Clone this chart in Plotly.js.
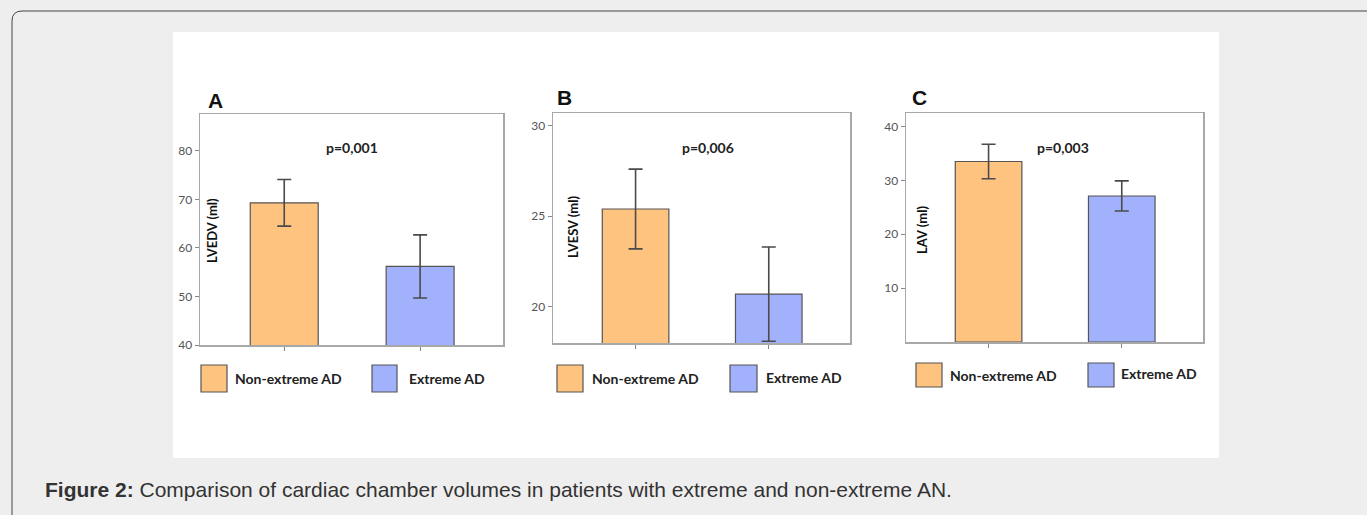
<!DOCTYPE html>
<html><head><meta charset="utf-8">
<script src="https://cdn.plot.ly/plotly-3.0.1.min.js"></script>
<style>html,body{margin:0;padding:0;background:#eeeeee;overflow:hidden}#chart{width:1367px;height:515px;}</style>
</head><body><div id="chart"></div>
<script>
// ---- data ----
const categories = ['Non-extreme AD', 'Extreme AD'];
const panelLetters = ['A', 'B', 'C'];
const yTitles = ['LVEDV (ml)', 'LVESV (ml)', 'LAV (ml)'];
const pValues = ['p=0,001', 'p=0,006', 'p=0,003'];
const lvedvMeans = [69.3, 56.2];
const lvedvErrors = [4.8, 6.5];
const lvesvMeans = [25.4, 20.7];
const lvesvErrors = [2.2, 2.6];
const lavMeans = [33.5, 27.1];
const lavErrors = [3.2, 2.8];
const yTickVals = [[40, 50, 60, 70, 80], [20, 25, 30], [10, 20, 30, 40]];
const yRanges = [[40, 87.6], [18, 30.7], [0, 42.5]];
const barColors = ['#ffc380', '#a1b1fb'];
const captionBold = 'Figure 2:';
const captionText = ' Comparison of cardiac chamber volumes in patients with extreme and non-extreme AN.';

// ---- layout helpers (pixel -> paper) ----
const W = 1367, H = 515;
const px = x => x / W;
const py = y => 1 - y / H;

const means = [lvedvMeans, lvesvMeans, lavMeans];
const errs = [lvedvErrors, lvesvErrors, lavErrors];
const boxes = [
  {l: 200, r: 503, t: 114, b: 345},
  {l: 553, r: 850, t: 113, b: 343},
  {l: 906, r: 1203, t: 113, b: 342}
];
const letterPos = [[206, 100], [555, 98], [910, 98]];
const pPos = [[352, 148], [708, 148], [1063, 148]];
const yTitlePos = [[212, 231], [573, 227], [922, 230]];
const legendSw = [
  [[201, 365, 227, 392], [372, 365, 397, 392]],
  [[557, 365, 583, 392], [730, 365, 757, 392]],
  [[916, 363, 942, 387], [1088, 363, 1114, 387]]
];
const legendTxt = [
  [[233, 378], [407, 378]],
  [[590, 378], [764, 377]],
  [[948, 375], [1119, 373]]
];

const FONT = 'Lato, "Open Sans", sans-serif';
const traces = [];
const layout = {
  width: W, height: H,
  margin: {l: 0, r: 0, t: 0, b: 0},
  paper_bgcolor: '#eeeeee',
  plot_bgcolor: '#ffffff',
  showlegend: false,
  bargap: 0,
  shapes: [],
  annotations: []
};

// card outline & white figure area
const cl = 12, ct = 11, rad = 10;
layout.shapes.push({
  type: 'path', xref: 'paper', yref: 'paper', layer: 'below',
  path: `M ${px(W)},${py(ct)} L ${px(cl + rad)},${py(ct)} Q ${px(cl)},${py(ct)} ${px(cl)},${py(ct + rad)} L ${px(cl)},${py(H)}`,
  line: {color: '#444444', width: 1}
});
layout.shapes.push({
  type: 'rect', xref: 'paper', yref: 'paper', layer: 'below',
  x0: px(173), x1: px(1219), y0: py(458), y1: py(32),
  fillcolor: '#ffffff', line: {width: 0}
});

for (let i = 0; i < 3; i++) {
  const n = i === 0 ? '' : String(i + 1);
  const bx = boxes[i];
  traces.push({
    type: 'bar',
    x: categories,
    y: means[i],
    xaxis: 'x' + n, yaxis: 'y' + n,
    width: 0.5,
    marker: {color: barColors, line: {color: '#555555', width: 1.2}},
    error_y: {type: 'data', array: errs[i], visible: true, color: '#4a4a4a', thickness: 1.6, width: 7},
    hoverinfo: 'x+y'
  });
  layout['xaxis' + n] = {
    domain: [px(bx.l), px(bx.r)],
    anchor: 'y' + n,
    type: 'category',
    range: [-0.62, 1.61],
    showticklabels: false,
    ticks: 'outside', ticklen: 4, tickcolor: '#888888', tickwidth: 1,
    showline: true, mirror: true, linecolor: '#a8a8a8', linewidth: 1.5,
    showgrid: false, zeroline: false, fixedrange: true
  };
  layout['yaxis' + n] = {
    domain: [py(bx.b), py(bx.t)],
    anchor: 'x' + n,
    range: yRanges[i],
    tickvals: yTickVals[i],
    ticks: 'outside', ticklen: 4, tickcolor: '#888888', tickwidth: 1,
    tickfont: {family: FONT, size: 12, color: '#555555'},
    showline: true, mirror: true, linecolor: '#a8a8a8', linewidth: 1.5,
    showgrid: false, zeroline: false, fixedrange: true
  };
  // panel letter
  layout.annotations.push({
    xref: 'paper', yref: 'paper', x: px(letterPos[i][0]), y: py(letterPos[i][1]),
    xanchor: 'left', yanchor: 'middle', showarrow: false,
    text: '<b>' + panelLetters[i] + '</b>',
    font: {family: 'Liberation Sans, Arial, sans-serif', size: 21, color: '#111111'}
  });
  // p value
  layout.annotations.push({
    xref: 'paper', yref: 'paper', x: px(pPos[i][0]), y: py(pPos[i][1]),
    xanchor: 'center', yanchor: 'middle', showarrow: false,
    text: '<b>' + pValues[i] + '</b>',
    font: {family: FONT, size: 14, color: '#222222'}
  });
  // y title (inside plot)
  layout.annotations.push({
    xref: 'paper', yref: 'paper', x: px(yTitlePos[i][0]), y: py(yTitlePos[i][1]),
    xanchor: 'center', yanchor: 'middle', showarrow: false, textangle: -90,
    text: '<b>' + yTitles[i] + '</b>',
    font: {family: FONT, size: 13, color: '#111111'}
  });
  // legend swatches + labels
  for (let k = 0; k < 2; k++) {
    const s = legendSw[i][k];
    layout.shapes.push({
      type: 'rect', xref: 'paper', yref: 'paper',
      x0: px(s[0]), x1: px(s[2]), y0: py(s[3]), y1: py(s[1]),
      fillcolor: barColors[k], line: {color: '#555555', width: 1.2}
    });
    layout.annotations.push({
      xref: 'paper', yref: 'paper', x: px(legendTxt[i][k][0]), y: py(legendTxt[i][k][1]),
      xanchor: 'left', yanchor: 'middle', showarrow: false,
      text: '<b>' + categories[k] + '</b>',
      font: {family: FONT, size: 14, color: '#222222'}
    });
  }
}

// caption
layout.annotations.push({
  xref: 'paper', yref: 'paper', x: px(43), y: py(489),
  xanchor: 'left', yanchor: 'middle', showarrow: false,
  text: '<b>' + captionBold + '</b>' + captionText,
  font: {family: 'Liberation Sans, Arial, sans-serif', size: 21, color: '#333333'}
});

Plotly.newPlot('chart', traces, layout, {displayModeBar: false, staticPlot: true});
</script>
</body></html>
